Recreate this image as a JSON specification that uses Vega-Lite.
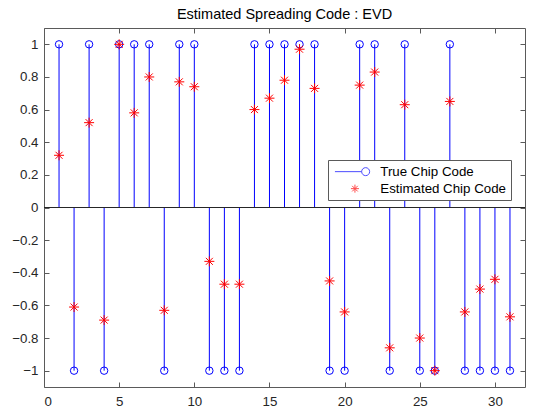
{
  "$schema": "https://vega.github.io/schema/vega-lite/v6.json",
  "width": 481,
  "height": 359,
  "autosize": "none",
  "padding": {"left": 44, "top": 28, "right": 9, "bottom": 23},
  "title": {"text": "Estimated Spreading Code : EVD", "fontSize": 14.5, "fontWeight": "normal", "font": "Liberation Sans", "color": "#000000", "offset": 5},
  "data": {
    "values": [
      {"chip": 1, "tc": 1, "ec": 0.32},
      {"chip": 2, "tc": -1, "ec": -0.61},
      {"chip": 3, "tc": 1, "ec": 0.52},
      {"chip": 4, "tc": -1, "ec": -0.69},
      {"chip": 5, "tc": 1, "ec": 1.0},
      {"chip": 6, "tc": 1, "ec": 0.58},
      {"chip": 7, "tc": 1, "ec": 0.80},
      {"chip": 8, "tc": -1, "ec": -0.63},
      {"chip": 9, "tc": 1, "ec": 0.77},
      {"chip": 10, "tc": 1, "ec": 0.74},
      {"chip": 11, "tc": -1, "ec": -0.33},
      {"chip": 12, "tc": -1, "ec": -0.47},
      {"chip": 13, "tc": -1, "ec": -0.47},
      {"chip": 14, "tc": 1, "ec": 0.60},
      {"chip": 15, "tc": 1, "ec": 0.67},
      {"chip": 16, "tc": 1, "ec": 0.78},
      {"chip": 17, "tc": 1, "ec": 0.97},
      {"chip": 18, "tc": 1, "ec": 0.73},
      {"chip": 19, "tc": -1, "ec": -0.45},
      {"chip": 20, "tc": -1, "ec": -0.64},
      {"chip": 21, "tc": 1, "ec": 0.75},
      {"chip": 22, "tc": 1, "ec": 0.83},
      {"chip": 23, "tc": -1, "ec": -0.86},
      {"chip": 24, "tc": 1, "ec": 0.63},
      {"chip": 25, "tc": -1, "ec": -0.80},
      {"chip": 26, "tc": -1, "ec": -1.0},
      {"chip": 27, "tc": 1, "ec": 0.65},
      {"chip": 28, "tc": -1, "ec": -0.64},
      {"chip": 29, "tc": -1, "ec": -0.50},
      {"chip": 30, "tc": -1, "ec": -0.44},
      {"chip": 31, "tc": -1, "ec": -0.67}
    ]
  },
  "resolve": {"axis": {"x": "independent", "y": "independent"}},
  "layer": [
    {
      "mark": {"type": "rule", "color": "#0000FF", "strokeWidth": 1},
      "encoding": {
        "x": {"field": "chip", "type": "quantitative", "scale": {"domain": [0, 32], "nice": false, "zero": false},
              "axis": {"orient": "bottom", "title": null, "values": [0, 5, 10, 15, 20, 25, 30], "labelPadding": 12}},
        "y": {"field": "tc", "type": "quantitative", "scale": {"domain": [-1.1, 1.1], "nice": false, "zero": false},
              "axis": {"orient": "left", "title": null, "values": [-1, -0.8, -0.6, -0.4, -0.2, 0, 0.2, 0.4, 0.6, 0.8, 1], "format": "~g", "labelPadding": 11}},
        "y2": {"datum": 0}
      }
    },
    {
      "mark": {"type": "rule", "color": "#262626", "strokeWidth": 1},
      "encoding": {
        "y": {"datum": 0, "type": "quantitative", "axis": null}
      }
    },
    {
      "mark": {"type": "point", "opacity": 0},
      "encoding": {
        "x": {"field": "chip", "type": "quantitative",
              "axis": {"orient": "top", "title": null, "labels": false, "values": [0, 5, 10, 15, 20, 25, 30]}},
        "y": {"field": "tc", "type": "quantitative",
              "axis": {"orient": "right", "title": null, "labels": false, "values": [-1, -0.8, -0.6, -0.4, -0.2, 0, 0.2, 0.4, 0.6, 0.8, 1]}}
      }
    },
    {
      "mark": {"type": "point", "filled": false, "strokeWidth": 1, "size": 0},
      "encoding": {
        "x": {"field": "chip", "type": "quantitative", "axis": null},
        "y": {"field": "tc", "type": "quantitative", "axis": null},
        "color": {"datum": "tc", "type": "nominal"},
        "shape": {"datum": "tc", "type": "nominal",
                  "scale": {"domain": ["tc", "ec"], "range": ["M-0.94,0L4.4,0M6,0A0.8,0.8 0 1,1 4.4,0A0.8,0.8 0 1,1 6,0", "M2.26,0L3.86,0M3.06,-0.8L3.06,0.8M2.5,-0.56L3.62,0.56M2.5,0.56L3.62,-0.56"]}}
      }
    },
    {
      "mark": {"type": "point", "shape": "circle", "filled": false, "strokeWidth": 1, "opacity": 1, "size": 55},
      "encoding": {
        "x": {"field": "chip", "type": "quantitative", "axis": null},
        "y": {"field": "tc", "type": "quantitative", "axis": null},
        "color": {"datum": "tc", "type": "nominal",
                  "scale": {"domain": ["tc", "ec"], "range": ["#0000FF", "#FF0000"]},
                  "legend": {"orient": "none", "legendX": 284, "legendY": 132, "title": null,
                             "labelExpr": "datum.value == 'tc' ? 'True Chip Code' : 'Estimated Chip Code'",
                             "labelFont": "Liberation Sans", "labelFontSize": 13.3, "labelColor": "#000000",
                             "strokeColor": "#5a5a5a", "fillColor": "#FFFFFF", "padding": 5,
                             "symbolSize": 100, "rowPadding": 3, "labelOffset": 34,
                             "symbolStrokeWidth": 1, "symbolOpacity": 1}}
      }
    },
    {
      "mark": {"type": "point", "shape": "M-1,0L1,0M0,-1L0,1M-0.7,-0.7L0.7,0.7M-0.7,0.7L0.7,-0.7", "filled": false, "strokeWidth": 1, "opacity": 1, "size": 100},
      "encoding": {
        "x": {"field": "chip", "type": "quantitative", "axis": null},
        "y": {"field": "ec", "type": "quantitative", "axis": null},
        "color": {"datum": "ec", "type": "nominal"}
      }
    }
  ],
  "config": {
    "font": "Liberation Sans",
    "view": {"stroke": null},
    "axis": {"grid": false, "domainColor": "#5a5a5a", "tickColor": "#5a5a5a", "labelColor": "#262626",
             "labelFontSize": 13.3, "tickSize": -5, "domainWidth": 1, "tickWidth": 1}
  }
}
